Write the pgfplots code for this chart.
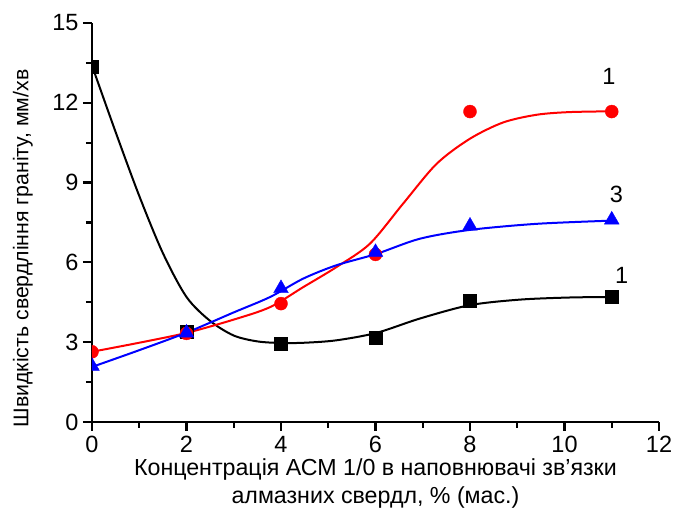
\documentclass[border=0pt]{standalone}
\usepackage{fontspec}
\setmainfont{Liberation Sans}
\usepackage{pgfplots}
\pgfplotsset{compat=1.18}
\begin{document}
\begin{tikzpicture}
\begin{axis}[
  at={(0pt,0pt)}, anchor=south west,
  scale only axis,
  width=567pt, height=399pt,
  xmin=0, xmax=12, ymin=0, ymax=15,
  axis x line=bottom, axis y line=left,
  axis line style={-, line width=2.6pt},
  xtick={0,2,...,12}, ytick={0,3,...,15},
  minor x tick num=1, minor y tick num=1,
  tick align=outside,
  major tick length=9pt, minor tick length=6pt,
  every tick/.style={black, line width=2.2pt},
  /pgf/number format/assume math mode=true,
  tick label style={font=\fontsize{23.5}{25}\selectfont},
  xticklabel style={inner sep=1pt, yshift=-4pt},
  yticklabel style={xshift=-1pt},
  xlabel={Концентрація АСМ 1/0 в наповнювачі зв'язки\\алмазних свердл, \% (мас.)},
  xlabel style={at={(axis description cs:0.5,0)}, anchor=north, yshift=-36.5pt, inner sep=0pt,
    align=center, font=\fontsize{23.2}{27.5}\selectfont},
  ylabel={Швидкість свердління граніту, мм/хв},
  ylabel style={at={(axis description cs:-0.122,0.435)}, anchor=center, inner sep=0pt,
    font=\fontsize{21.3}{25}\selectfont},
  clip marker paths=true,
]
% fitted curves
\addplot[black, line width=2pt, smooth, mark=none] coordinates {
(0,13.4)(0.5,10.9)(1,8.5)(1.5,6.35)(2,4.7)(2.5,3.8)(3,3.25)(3.5,3.03)(4,2.97)(4.5,2.98)(5.17,3.07)(6.02,3.35)(6.94,3.89)(7.99,4.39)(9.05,4.6)(10.1,4.68)(11,4.7)};
\addplot[red, line width=2pt, smooth, mark=none] coordinates {
(0,2.64)(1,2.98)(2,3.35)(3,3.85)(3.77,4.32)(4.47,5.07)(5.17,5.82)(5.88,6.7)(6.58,8.2)(7.29,9.7)(7.99,10.64)(8.7,11.26)(9.41,11.55)(10.1,11.65)(11,11.68)};
\addplot[blue, line width=2pt, smooth, mark=none] coordinates {
(0,2.07)(1,2.7)(2,3.36)(3,4.12)(3.77,4.7)(4.47,5.39)(5.17,5.89)(6.02,6.32)(6.94,6.89)(7.99,7.22)(9.41,7.45)(11,7.57)};
% measured points
\addplot[only marks, mark=square*, mark size=6.5pt, black] coordinates {
(0,13.35)(2,3.38)(4,2.95)(6,3.16)(8,4.55)(11,4.7)};
\addplot[only marks, mark=*, mark size=6.5pt, red, mark options={fill=red, draw=red}] coordinates {
(0,2.64)(2,3.33)(4,4.45)(6,6.3)(8,11.67)(11,11.67)};
\addplot[only marks, mark=triangle*, mark size=8.5pt, blue, mark options={fill=blue, draw=blue}] coordinates {
(0,2.1)(2,3.35)(4,5.02)(6,6.38)(8,7.37)(11,7.6)};
\node[font=\fontsize{23.5}{25}\selectfont] at (axis cs:10.94,13.0) {1};
\node[font=\fontsize{23.5}{25}\selectfont] at (axis cs:11.1,8.55) {3};
\node[font=\fontsize{23.5}{25}\selectfont] at (axis cs:11.21,5.51) {1};
\end{axis}
\pgfresetboundingbox
\useasboundingbox (-92pt,-88pt) rectangle (585pt,422pt);
\end{tikzpicture}
\end{document}
